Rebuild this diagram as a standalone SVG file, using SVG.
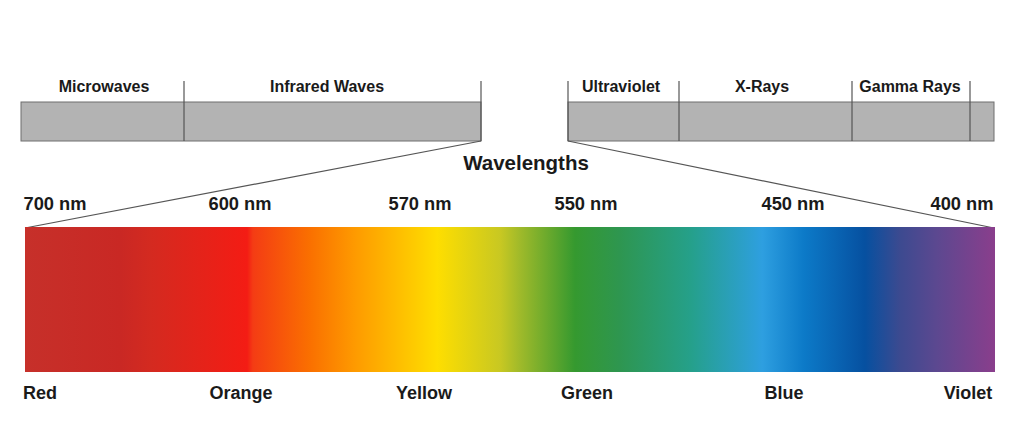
<svg xmlns="http://www.w3.org/2000/svg" width="1020" height="438" viewBox="0 0 1020 438">
<style>
.lbl{font-family:"Liberation Sans",Arial,sans-serif;font-weight:bold;fill:#1a1a1a;text-anchor:middle}
.top{font-size:16px}
.nm{font-size:18.3px}
.col{font-size:18px}
.bar{fill:#b3b3b3;stroke:#6e6e6e;stroke-width:1}
.div{stroke:#555;stroke-width:1.2;fill:none}
.conn{stroke:#555;stroke-width:1.2;fill:none}
</style>
<defs>
<linearGradient id="spec" x1="25" y1="0" x2="995" y2="0" gradientUnits="userSpaceOnUse">
<stop offset="0" stop-color="#c6302a"/>
<stop offset="0.098" stop-color="#c92824"/>
<stop offset="0.13" stop-color="#d42a20"/>
<stop offset="0.229" stop-color="#f41c14"/>
<stop offset="0.235" stop-color="#f43c14"/>
<stop offset="0.294" stop-color="#fa7000"/>
<stop offset="0.34" stop-color="#fe9a00"/>
<stop offset="0.425" stop-color="#fede00"/>
<stop offset="0.49" stop-color="#c8c822"/>
<stop offset="0.51" stop-color="#a0ba2a"/>
<stop offset="0.567" stop-color="#35992f"/>
<stop offset="0.613" stop-color="#2e9650"/>
<stop offset="0.686" stop-color="#25a08a"/>
<stop offset="0.76" stop-color="#2e9fe0"/>
<stop offset="0.803" stop-color="#0c7ac8"/>
<stop offset="0.866" stop-color="#0650a0"/>
<stop offset="0.902" stop-color="#3c4a90"/>
<stop offset="0.94" stop-color="#5c4890"/>
<stop offset="1" stop-color="#8a3e8c"/>
</linearGradient>
</defs>
<rect width="1020" height="438" fill="#ffffff"/>

<g id="band-left">
<rect class="bar" x="21" y="102" width="460" height="39"/>
<line class="div" x1="184" y1="81" x2="184" y2="141"/>
<line class="div" x1="481" y1="81" x2="481" y2="141"/>
<text class="lbl top" x="104" y="92">Microwaves</text>
<text class="lbl top" x="327" y="92">Infrared Waves</text>
</g>

<g id="band-right">
<rect class="bar" x="568" y="102" width="426" height="39"/>
<line class="div" x1="568" y1="81" x2="568" y2="141"/>
<line class="div" x1="679" y1="81" x2="679" y2="141"/>
<line class="div" x1="852" y1="81" x2="852" y2="141"/>
<line class="div" x1="970" y1="81" x2="970" y2="141"/>
<text class="lbl top" x="621" y="92">Ultraviolet</text>
<text class="lbl top" x="762" y="92">X-Rays</text>
<text class="lbl top" x="910" y="92">Gamma Rays</text>
</g>

<g id="connectors">
<line class="conn" x1="481" y1="141" x2="25" y2="228"/>
<line class="conn" x1="568" y1="141" x2="994" y2="228"/>
</g>

<g id="title">
<text class="lbl" x="526" y="170" font-size="20.5px">Wavelengths</text>
</g>

<g id="wavelength-labels">
<text class="lbl nm" x="55" y="210">700 nm</text>
<text class="lbl nm" x="240" y="210">600 nm</text>
<text class="lbl nm" x="420" y="210">570 nm</text>
<text class="lbl nm" x="586" y="210">550 nm</text>
<text class="lbl nm" x="793" y="210">450 nm</text>
<text class="lbl nm" x="962" y="210">400 nm</text>
</g>

<g id="spectrum">
<rect x="25" y="227" width="970" height="145" fill="url(#spec)"/>
</g>

<g id="color-labels">
<text class="lbl col" x="40" y="399">Red</text>
<text class="lbl col" x="241" y="399">Orange</text>
<text class="lbl col" x="424" y="399">Yellow</text>
<text class="lbl col" x="587" y="399">Green</text>
<text class="lbl col" x="784" y="399">Blue</text>
<text class="lbl col" x="968" y="399">Violet</text>
</g>
</svg>
